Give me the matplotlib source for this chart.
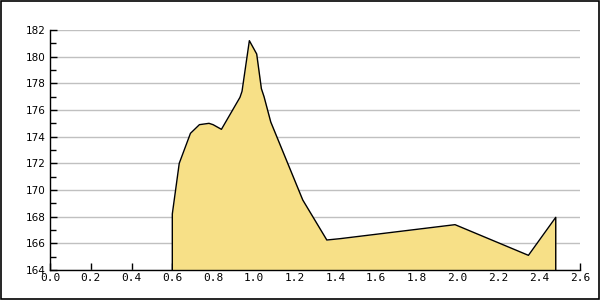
import matplotlib
matplotlib.use("Agg")
import matplotlib.pyplot as plt
from matplotlib.ticker import MultipleLocator
from matplotlib.patches import Rectangle

# Data
x_vals = [0.600, 0.600, 0.634, 0.689, 0.733, 0.780, 0.800, 0.841, 0.932, 0.942,
          0.978, 1.014, 1.037, 1.050, 1.083, 1.240, 1.358, 1.423, 1.987, 2.347,
          2.481, 2.481]
y_vals = [164.0, 168.2, 172.0, 174.25, 174.9, 175.0, 174.9, 174.55, 176.95, 177.4,
          181.2, 180.2, 177.6, 177.0, 175.1, 169.25, 166.25, 166.35, 167.4, 165.1,
          167.95, 164.0]

x_ticks = [0.0, 0.2, 0.4, 0.6, 0.8, 1.0, 1.2, 1.4, 1.6, 1.8, 2.0, 2.2, 2.4, 2.6]
y_ticks = [164, 166, 168, 170, 172, 174, 176, 178, 180, 182]

fig = plt.figure(figsize=(6, 3), dpi=100)
ax = fig.add_axes([50 / 600, 30 / 300, 530 / 600, 240 / 300])

ax.fill_between(x_vals, y_vals, 164, color="#f7e087", linewidth=0, zorder=2)
ax.plot(x_vals, y_vals, color="black", linewidth=1.0, zorder=3)

ax.set_xlim(0, 2.6)
ax.set_ylim(164, 182)
ax.set_xticks(x_ticks)
ax.set_xticklabels([f"{t:.1f}" for t in x_ticks], family="DejaVu Sans Mono")
ax.set_yticks(y_ticks)
ax.yaxis.set_minor_locator(MultipleLocator(1))

ax.grid(axis="y", color="#c0c0c0", linewidth=1.0, zorder=1)
ax.set_axisbelow(True)

for side in ["top", "right"]:
    ax.spines[side].set_visible(False)
for side in ["left", "bottom"]:
    ax.spines[side].set_linewidth(1.0)
    ax.spines[side].set_zorder(4)

ax.tick_params(axis="x", direction="in", length=5, width=1, pad=2, labelsize=8)
ax.tick_params(axis="y", which="major", direction="in", length=5, width=1, pad=3, labelsize=7.5)
ax.tick_params(axis="y", which="minor", direction="in", length=4, width=1)

# border around the whole picture
fig.patches.append(Rectangle((0.001, 0.002), 0.997, 0.996, transform=fig.transFigure,
                             fill=False, edgecolor="black", linewidth=1.2))

fig.savefig("out.png", dpi=100)
